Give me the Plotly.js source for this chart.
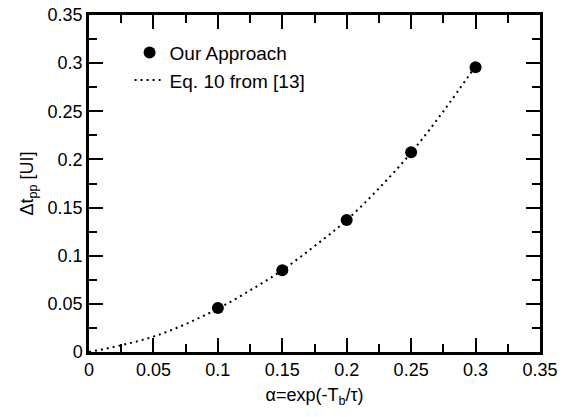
<!DOCTYPE html>
<html><head><meta charset="utf-8">
<script src="https://cdn.plot.ly/plotly-3.0.1.min.js"></script>
<style>html,body{margin:0;padding:0;background:#fff}</style>
</head><body><div id="plot" style="width:563px;height:417px"></div>
<script>
const alphaPts = [0.1, 0.15, 0.2, 0.25, 0.3];
const ourApproach = [0.0457, 0.085, 0.137, 0.2075, 0.2957];
const alphaEq = [0, 0.025, 0.05, 0.075, 0.1, 0.125, 0.15, 0.175, 0.2, 0.225, 0.25, 0.275, 0.3];
const eq10 = [0, 0.007, 0.016, 0.029, 0.045, 0.064, 0.085, 0.11, 0.137, 0.17, 0.207, 0.25, 0.297];
const axisRange = [0, 0.35];
const majorStep = 0.05;
const minorStep = 0.025;

const font = {family: 'Liberation Sans, Arial, Helvetica, sans-serif', color: '#000', size: 18};
const tickCol = '#000000';
const base = {range: axisRange, showgrid: true, gridcolor: 'rgba(255,255,255,0)', zeroline: false,
              ticks: 'inside', tickwidth: 2, tickcolor: tickCol};
const major = Object.assign({}, base, {dtick: majorStep, ticklen: 14});
const minor = Object.assign({}, base, {dtick: minorStep, ticklen: 8, showticklabels: false, showline: false});

const empty = (xa, ya) => ({x: [], y: [], xaxis: xa, yaxis: ya, type: 'scatter', mode: 'markers', showlegend: false, hoverinfo: 'skip'});
const data = [
  {x: alphaPts, y: ourApproach, type: 'scatter', mode: 'markers', name: 'Our Approach',
   marker: {color: '#000', size: 12}},
  {x: alphaEq, y: eq10, type: 'scatter', mode: 'lines', name: 'Eq. 10 from [13]',
   line: {color: '#000', width: 2, dash: '2px,4px', shape: 'spline'}},
  empty('x2', 'y2'), empty('x3', 'y3'), empty('x4', 'y4')
];
const layout = {
  width: 563, height: 417,
  margin: {l: 89, r: 23, t: 15, b: 65},
  paper_bgcolor: '#fff', plot_bgcolor: '#fff',
  font: font, showlegend: true,
  legend: {x: 0.09, y: 0.945, xanchor: 'left', yanchor: 'top', font: {family: font.family, color: '#000', size: 19},
           bgcolor: 'rgba(0,0,0,0)', itemwidth: 30, tracegroupgap: 0},
  xaxis: Object.assign({}, major, {showline: true, linecolor: 'black', linewidth: 2.5,
          title: {text: 'α=exp(-T<sub>b</sub>/τ)', font: font, standoff: 10}}),
  yaxis: Object.assign({}, major, {showline: true, linecolor: 'black', linewidth: 2.5,
          title: {text: 'Δt<sub>pp</sub> [UI]', font: font, standoff: 10}}),
  xaxis2: Object.assign({}, major, {overlaying: 'x', side: 'top', anchor: 'y', showticklabels: false,
          showline: true, linecolor: 'black', linewidth: 2.5}),
  yaxis2: Object.assign({}, major, {overlaying: 'y', side: 'right', anchor: 'x', showticklabels: false,
          showline: true, linecolor: 'black', linewidth: 2.5}),
  xaxis3: Object.assign({}, minor, {overlaying: 'x', side: 'bottom', anchor: 'y'}),
  yaxis3: Object.assign({}, minor, {overlaying: 'y', side: 'left', anchor: 'x'}),
  xaxis4: Object.assign({}, minor, {overlaying: 'x', side: 'top', anchor: 'y'}),
  yaxis4: Object.assign({}, minor, {overlaying: 'y', side: 'right', anchor: 'x'})
};
Plotly.newPlot('plot', data, layout, {displayModeBar: false});
</script></body></html>
